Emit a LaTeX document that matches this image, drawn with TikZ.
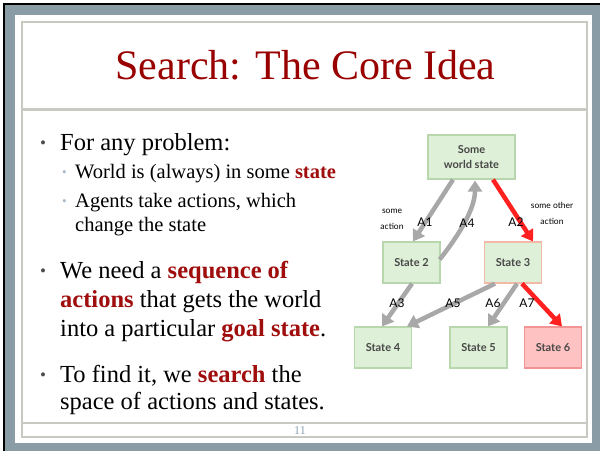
\documentclass[tikz,border=0pt]{standalone}
\usepackage{fontspec}
\setmainfont{Liberation Serif}
\newfontfamily\diafont{Lato}
\usetikzlibrary{arrows.meta,calc}

\definecolor{frameblue}{HTML}{8A9DA7}
\definecolor{rulegray}{HTML}{C8CAC1}
\definecolor{titlered}{HTML}{990000}
\definecolor{keyred}{HTML}{A00D0D}
\definecolor{statefill}{HTML}{DFF0D8}
\definecolor{stateline}{HTML}{B9D7AC}
\definecolor{goalfill}{HTML}{FFC2C2}
\definecolor{goalline}{HTML}{F29494}
\definecolor{pathline}{HTML}{F2B9A6}
\definecolor{movegray}{HTML}{A8A8A8}
\definecolor{movered}{HTML}{FF2020}
\definecolor{pagenum}{HTML}{8DA3B3}
\definecolor{subdot}{HTML}{A9B8C6}

\newcommand{\key}[1]{\textcolor{keyred}{\bfseries #1}}

\begin{document}
\begin{tikzpicture}[x=1pt,y=-1pt,
  bodyline/.style={anchor=base west,inner sep=0pt,font=\fontsize{24.5}{29}\selectfont},
  subline/.style={anchor=base west,inner sep=0pt,font=\fontsize{20.5}{24}\selectfont},
  dot/.style={anchor=base west,inner sep=0pt,font=\fontsize{17}{20}\selectfont,text=black!70},
  subdotstyle/.style={anchor=base west,inner sep=0pt,font=\fontsize{13}{15}\selectfont,text=subdot},
  statebox/.style={draw=stateline,fill=statefill,line width=1.2pt,
    minimum width=57pt,minimum height=41pt,inner sep=0pt,align=center,
    font=\diafont\bfseries\fontsize{11}{15.5}\selectfont,text=black!72},
  move/.style={draw=movegray,line width=4.5pt,-{Triangle[length=11pt,width=14pt]}},
  goalmove/.style={draw=movered,line width=4.5pt,-{Triangle[length=11pt,width=14pt]}},
  lab/.style={inner sep=0pt,font=\diafont\fontsize{12}{14}\selectfont},
  note/.style={inner sep=0pt,align=center,font=\diafont\fontsize{8.5}{16}\selectfont}
]
\useasboundingbox (0,0) rectangle (600,451);

% slide frame
\fill[white] (0,0) rectangle (600,451);
\fill[frameblue] (3,3) rectangle (600,451);
\draw[black,line width=2pt] (4,451) -- (4,4) -- (600,4);
\fill[white] (15,14.5) rectangle (592,443);
\draw[rulegray,line width=2pt] (22,22) rectangle (587,436.5);
\draw[rulegray,line width=3pt] (22,109.5) -- (587,109.5);
\draw[rulegray,line width=2pt] (22,423) -- (587,423);

% title and page number
\node[anchor=base,inner sep=0pt,font=\fontsize{42}{50}\selectfont,text=titlered] (title) at (305.5,79) {Search: The Core Idea};
\node[inner sep=0pt,font=\fontsize{12}{14}\selectfont,text=pagenum] (pg) at (300,430.5) {11};

% bullet text
\node[dot] (d1) at (40,148) {•};
\node[bodyline] (b1) at (60,150) {For any problem:};
\node[subdotstyle] (e1) at (62,176) {•};
\node[subline] (s1) at (75,178) {World is (always) in some \key{state}};
\node[subdotstyle] (e2) at (62,205) {•};
\node[subline] (s2a) at (75,207) {Agents take actions, which};
\node[subline] (s2b) at (75,231) {change the state};

\node[dot] (d2) at (40,276) {•};
\node[bodyline] (b2a) at (60,278) {We need a \key{sequence of}};
\node[bodyline] (b2b) at (60,307) {\key{actions} that gets the world};
\node[bodyline] (b2c) at (60,336) {into a particular \key{goal state}.};

\node[dot] (d3) at (40,380) {•};
\node[bodyline] (b3a) at (60,382) {To find it, we \key{search} the};
\node[bodyline] (b3b) at (60,409) {space of actions and states.};

% state graph
\node[statebox,minimum width=87pt,minimum height=44pt] (top) at (471.5,157) {Some\\world state};
\node[statebox] (st2) at (411.5,262.5) {State 2};
\node[statebox,draw=pathline] (st3) at (513,262.5) {State 3};
\node[statebox] (st4) at (383,347.5) {State 4};
\node[statebox] (st5) at (478.5,347.5) {State 5};
\node[statebox,draw=goalline,fill=goalfill] (st6) at (553,347.5) {State 6};

\draw[move] ($(top.south)+(-18.5,0)$) -- ($(st2.north)+(1.5,0)$);
\draw[move] ($(st2.east)+(-1,-3)$) .. controls +(16,-20) and +(0,30) .. ($(top.south)+(3.5,1)$);
\draw[goalmove] ($(top.south)+(21.5,0)$) -- ($(st3.north)+(20,0)$);
\draw[move] ($(st2.south)+(0.5,0)$) -- ($(st4.north)+(-1,0)$);
\draw[move] ($(st3.south)+(-18,0)$) -- ($(st4.north)+(24,0)$);
\draw[move] ($(st3.south)+(4,0)$) -- ($(st5.north)+(9.5,0)$);
\draw[goalmove] ($(st3.south)+(9,0)$) -- ($(st6.north)+(9,0)$);

% move labels
\node[lab] (l1) at (425,222) {A1};
\node[lab] (l4) at (467,223) {A4};
\node[lab] (l2) at (516,222) {A2};
\node[lab] (l3) at (397,303) {A3};
\node[lab] (l5) at (453,303) {A5};
\node[lab] (l6) at (493,303) {A6};
\node[lab] (l7) at (527,303) {A7};
\node[note] (n1) at (392,219) {some\\action};
\node[note] (n2) at (552,213) {some other\\action};
\end{tikzpicture}
\end{document}
